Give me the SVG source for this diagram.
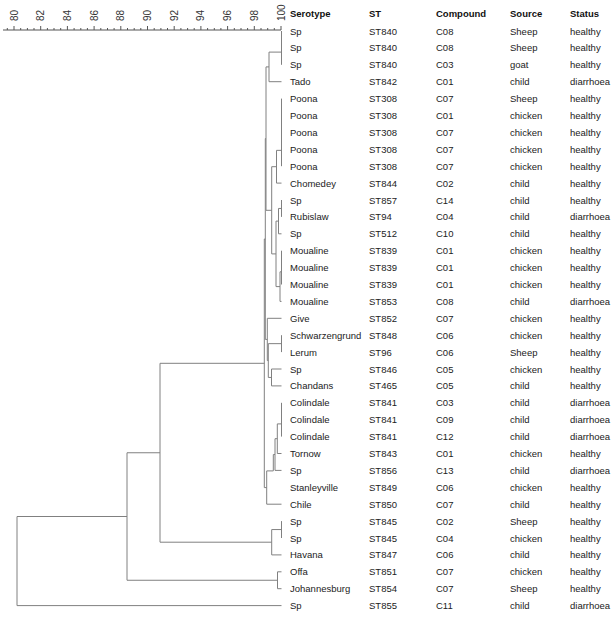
<svg xmlns="http://www.w3.org/2000/svg" width="616" height="619" viewBox="0 0 616 619">
<style>
.t{font-family:"Liberation Sans",Arial,sans-serif;font-size:9.5px;fill:#222}
.h{font-family:"Liberation Sans",Arial,sans-serif;font-size:9.5px;font-weight:bold;fill:#111}
.ax{font-family:"Liberation Sans",Arial,sans-serif;font-size:10px;fill:#333}
.ln{stroke:#808080;stroke-width:1;fill:none}
.tk{stroke:#555;stroke-width:1;fill:none}
</style>
<rect width="616" height="619" fill="#fff"/>
<g id="axis">
<path class="tk" d="M3,30H281"/>
<path class="tk" d="M14,30v-4M40.7,30v-4M67.4,30v-4M94.1,30v-4M120.8,30v-4M147.5,30v-4M174.2,30v-4M200.9,30v-4M227.6,30v-4M254.3,30v-4M281,30v-4"/>
<path class="tk" d="M7.3,30v-2M20.7,30v-2M27.4,30v-2M34,30v-2M47.4,30v-2M54,30v-2M60.7,30v-2M74.1,30v-2M80.8,30v-2M87.4,30v-2M100.8,30v-2M107.5,30v-2M114.1,30v-2M127.5,30v-2M134.2,30v-2M140.8,30v-2M154.2,30v-2M160.9,30v-2M167.5,30v-2M180.9,30v-2M187.6,30v-2M194.2,30v-2M207.6,30v-2M214.3,30v-2M220.9,30v-2M234.3,30v-2M241,30v-2M247.6,30v-2M261,30v-2M267.7,30v-2M274.3,30v-2"/>
<text class="ax" transform="translate(17.5,21) rotate(-90)">80</text>
<text class="ax" transform="translate(44.2,21) rotate(-90)">82</text>
<text class="ax" transform="translate(70.9,21) rotate(-90)">84</text>
<text class="ax" transform="translate(97.6,21) rotate(-90)">86</text>
<text class="ax" transform="translate(124.3,21) rotate(-90)">88</text>
<text class="ax" transform="translate(151,21) rotate(-90)">90</text>
<text class="ax" transform="translate(177.7,21) rotate(-90)">92</text>
<text class="ax" transform="translate(204.4,21) rotate(-90)">94</text>
<text class="ax" transform="translate(231.1,21) rotate(-90)">96</text>
<text class="ax" transform="translate(257.8,21) rotate(-90)">98</text>
<text class="ax" transform="translate(284.5,21) rotate(-90)">100</text>
</g>
<g id="connectors">
<path class="ln" d="M281.5,31V64.8M269,52.1V81.7M269,52.1H281.5M269,81.7H281.5"/>
<path class="ln" d="M281.5,98.6V166.2M276.5,150.35V183.1M276.5,150.35H281.5M276.5,183.1H281.5"/>
<path class="ln" d="M281.5,200V216.9M278.5,208.45V233.8M278.5,208.45H281.5M278.5,233.8H281.5"/>
<path class="ln" d="M281.5,250.7V284.5M280,271.8V301.4M280,271.8H281.5M280,301.4H281.5"/>
<path class="ln" d="M276,221.1V286.6M276,221.1H278.5M276,286.6H280"/>
<path class="ln" d="M271.7,166.7V253.9M271.7,166.7H276.5M271.7,253.9H276"/>
<path class="ln" d="M266,66.9V210.3M266,66.9H269M266,210.3H271.7"/>
<path class="ln" d="M281.5,335.2V352.1M271.5,369V385.9M271.5,369H281.5M271.5,385.9H281.5"/>
<path class="ln" d="M268.3,343.65V377.45M268.3,343.65H281.5M268.3,377.45H271.5"/>
<path class="ln" d="M267.3,318.3V360.55M267.3,318.3H281.5M267.3,360.55H268.3"/>
<path class="ln" d="M281.5,402.8V436.6M277.3,423.9V453.5M277.3,423.9H281.5M277.3,453.5H281.5"/>
<path class="ln" d="M275,438.7V470.4M275,438.7H277.3M275,470.4H281.5"/>
<path class="ln" d="M273.3,454.55V470.9M273.3,454.55H275"/>
<path class="ln" d="M266.7,470.9V504.2M266.7,470.9H273.3M266.7,504.2H281.5"/>
<path class="ln" d="M265.3,138.6V339.4M265.3,138.6H266M265.3,339.4H267.3"/>
<path class="ln" d="M264.3,239V487.6M264.3,239H265.3M264.3,487.6H266.7"/>
<path class="ln" d="M281.5,521.1V538M271.7,529.55V554.9M271.7,529.55H281.5M271.7,554.9H281.5"/>
<path class="ln" d="M160,363.3V542.2M160,363.3H264.3M160,542.2H271.7"/>
<path class="ln" d="M277.5,571.8V588.7M277.5,571.8H281.5M277.5,588.7H281.5"/>
<path class="ln" d="M127,452.75V580.25M127,452.75H160M127,580.25H277.5"/>
<path class="ln" d="M17,516.5V605.6M17,516.5H127M17,605.6H281.5"/>
</g>
<g id="header">
<text class="h" x="290" y="16.5">Serotype</text>
<text class="h" x="369" y="16.5">ST</text>
<text class="h" x="436" y="16.5">Compound</text>
<text class="h" x="510" y="16.5">Source</text>
<text class="h" x="570" y="16.5">Status</text>
</g>
<g id="r1"><text class="t" x="290" y="34.5">Sp</text><text class="t" x="369" y="34.5">ST840</text><text class="t" x="436" y="34.5">C08</text><text class="t" x="510" y="34.5">Sheep</text><text class="t" x="570" y="34.5">healthy</text></g>
<g id="r2"><text class="t" x="290" y="51.4">Sp</text><text class="t" x="369" y="51.4">ST840</text><text class="t" x="436" y="51.4">C08</text><text class="t" x="510" y="51.4">Sheep</text><text class="t" x="570" y="51.4">healthy</text></g>
<g id="r3"><text class="t" x="290" y="68.3">Sp</text><text class="t" x="369" y="68.3">ST840</text><text class="t" x="436" y="68.3">C03</text><text class="t" x="510" y="68.3">goat</text><text class="t" x="570" y="68.3">healthy</text></g>
<g id="r4"><text class="t" x="290" y="85.2">Tado</text><text class="t" x="369" y="85.2">ST842</text><text class="t" x="436" y="85.2">C01</text><text class="t" x="510" y="85.2">child</text><text class="t" x="570" y="85.2">diarrhoea</text></g>
<g id="r5"><text class="t" x="290" y="102.1">Poona</text><text class="t" x="369" y="102.1">ST308</text><text class="t" x="436" y="102.1">C07</text><text class="t" x="510" y="102.1">Sheep</text><text class="t" x="570" y="102.1">healthy</text></g>
<g id="r6"><text class="t" x="290" y="119">Poona</text><text class="t" x="369" y="119">ST308</text><text class="t" x="436" y="119">C01</text><text class="t" x="510" y="119">chicken</text><text class="t" x="570" y="119">healthy</text></g>
<g id="r7"><text class="t" x="290" y="135.9">Poona</text><text class="t" x="369" y="135.9">ST308</text><text class="t" x="436" y="135.9">C07</text><text class="t" x="510" y="135.9">chicken</text><text class="t" x="570" y="135.9">healthy</text></g>
<g id="r8"><text class="t" x="290" y="152.8">Poona</text><text class="t" x="369" y="152.8">ST308</text><text class="t" x="436" y="152.8">C07</text><text class="t" x="510" y="152.8">chicken</text><text class="t" x="570" y="152.8">healthy</text></g>
<g id="r9"><text class="t" x="290" y="169.7">Poona</text><text class="t" x="369" y="169.7">ST308</text><text class="t" x="436" y="169.7">C07</text><text class="t" x="510" y="169.7">chicken</text><text class="t" x="570" y="169.7">healthy</text></g>
<g id="r10"><text class="t" x="290" y="186.6">Chomedey</text><text class="t" x="369" y="186.6">ST844</text><text class="t" x="436" y="186.6">C02</text><text class="t" x="510" y="186.6">child</text><text class="t" x="570" y="186.6">healthy</text></g>
<g id="r11"><text class="t" x="290" y="203.5">Sp</text><text class="t" x="369" y="203.5">ST857</text><text class="t" x="436" y="203.5">C14</text><text class="t" x="510" y="203.5">child</text><text class="t" x="570" y="203.5">healthy</text></g>
<g id="r12"><text class="t" x="290" y="220.4">Rubislaw</text><text class="t" x="369" y="220.4">ST94</text><text class="t" x="436" y="220.4">C04</text><text class="t" x="510" y="220.4">child</text><text class="t" x="570" y="220.4">diarrhoea</text></g>
<g id="r13"><text class="t" x="290" y="237.3">Sp</text><text class="t" x="369" y="237.3">ST512</text><text class="t" x="436" y="237.3">C10</text><text class="t" x="510" y="237.3">child</text><text class="t" x="570" y="237.3">healthy</text></g>
<g id="r14"><text class="t" x="290" y="254.2">Moualine</text><text class="t" x="369" y="254.2">ST839</text><text class="t" x="436" y="254.2">C01</text><text class="t" x="510" y="254.2">chicken</text><text class="t" x="570" y="254.2">healthy</text></g>
<g id="r15"><text class="t" x="290" y="271.1">Moualine</text><text class="t" x="369" y="271.1">ST839</text><text class="t" x="436" y="271.1">C01</text><text class="t" x="510" y="271.1">chicken</text><text class="t" x="570" y="271.1">healthy</text></g>
<g id="r16"><text class="t" x="290" y="288">Moualine</text><text class="t" x="369" y="288">ST839</text><text class="t" x="436" y="288">C01</text><text class="t" x="510" y="288">chicken</text><text class="t" x="570" y="288">healthy</text></g>
<g id="r17"><text class="t" x="290" y="304.9">Moualine</text><text class="t" x="369" y="304.9">ST853</text><text class="t" x="436" y="304.9">C08</text><text class="t" x="510" y="304.9">child</text><text class="t" x="570" y="304.9">diarrhoea</text></g>
<g id="r18"><text class="t" x="290" y="321.8">Give</text><text class="t" x="369" y="321.8">ST852</text><text class="t" x="436" y="321.8">C07</text><text class="t" x="510" y="321.8">chicken</text><text class="t" x="570" y="321.8">healthy</text></g>
<g id="r19"><text class="t" x="290" y="338.7">Schwarzengrund</text><text class="t" x="369" y="338.7">ST848</text><text class="t" x="436" y="338.7">C06</text><text class="t" x="510" y="338.7">chicken</text><text class="t" x="570" y="338.7">healthy</text></g>
<g id="r20"><text class="t" x="290" y="355.6">Lerum</text><text class="t" x="369" y="355.6">ST96</text><text class="t" x="436" y="355.6">C06</text><text class="t" x="510" y="355.6">Sheep</text><text class="t" x="570" y="355.6">healthy</text></g>
<g id="r21"><text class="t" x="290" y="372.5">Sp</text><text class="t" x="369" y="372.5">ST846</text><text class="t" x="436" y="372.5">C05</text><text class="t" x="510" y="372.5">chicken</text><text class="t" x="570" y="372.5">healthy</text></g>
<g id="r22"><text class="t" x="290" y="389.4">Chandans</text><text class="t" x="369" y="389.4">ST465</text><text class="t" x="436" y="389.4">C05</text><text class="t" x="510" y="389.4">child</text><text class="t" x="570" y="389.4">healthy</text></g>
<g id="r23"><text class="t" x="290" y="406.3">Colindale</text><text class="t" x="369" y="406.3">ST841</text><text class="t" x="436" y="406.3">C03</text><text class="t" x="510" y="406.3">child</text><text class="t" x="570" y="406.3">diarrhoea</text></g>
<g id="r24"><text class="t" x="290" y="423.2">Colindale</text><text class="t" x="369" y="423.2">ST841</text><text class="t" x="436" y="423.2">C09</text><text class="t" x="510" y="423.2">child</text><text class="t" x="570" y="423.2">diarrhoea</text></g>
<g id="r25"><text class="t" x="290" y="440.1">Colindale</text><text class="t" x="369" y="440.1">ST841</text><text class="t" x="436" y="440.1">C12</text><text class="t" x="510" y="440.1">child</text><text class="t" x="570" y="440.1">diarrhoea</text></g>
<g id="r26"><text class="t" x="290" y="457">Tornow</text><text class="t" x="369" y="457">ST843</text><text class="t" x="436" y="457">C01</text><text class="t" x="510" y="457">chicken</text><text class="t" x="570" y="457">healthy</text></g>
<g id="r27"><text class="t" x="290" y="473.9">Sp</text><text class="t" x="369" y="473.9">ST856</text><text class="t" x="436" y="473.9">C13</text><text class="t" x="510" y="473.9">child</text><text class="t" x="570" y="473.9">diarrhoea</text></g>
<g id="r28"><text class="t" x="290" y="490.8">Stanleyville</text><text class="t" x="369" y="490.8">ST849</text><text class="t" x="436" y="490.8">C06</text><text class="t" x="510" y="490.8">chicken</text><text class="t" x="570" y="490.8">healthy</text></g>
<g id="r29"><text class="t" x="290" y="507.7">Chile</text><text class="t" x="369" y="507.7">ST850</text><text class="t" x="436" y="507.7">C07</text><text class="t" x="510" y="507.7">child</text><text class="t" x="570" y="507.7">healthy</text></g>
<g id="r30"><text class="t" x="290" y="524.6">Sp</text><text class="t" x="369" y="524.6">ST845</text><text class="t" x="436" y="524.6">C02</text><text class="t" x="510" y="524.6">Sheep</text><text class="t" x="570" y="524.6">healthy</text></g>
<g id="r31"><text class="t" x="290" y="541.5">Sp</text><text class="t" x="369" y="541.5">ST845</text><text class="t" x="436" y="541.5">C04</text><text class="t" x="510" y="541.5">chicken</text><text class="t" x="570" y="541.5">healthy</text></g>
<g id="r32"><text class="t" x="290" y="558.4">Havana</text><text class="t" x="369" y="558.4">ST847</text><text class="t" x="436" y="558.4">C06</text><text class="t" x="510" y="558.4">child</text><text class="t" x="570" y="558.4">healthy</text></g>
<g id="r33"><text class="t" x="290" y="575.3">Offa</text><text class="t" x="369" y="575.3">ST851</text><text class="t" x="436" y="575.3">C07</text><text class="t" x="510" y="575.3">chicken</text><text class="t" x="570" y="575.3">healthy</text></g>
<g id="r34"><text class="t" x="290" y="592.2">Johannesburg</text><text class="t" x="369" y="592.2">ST854</text><text class="t" x="436" y="592.2">C07</text><text class="t" x="510" y="592.2">Sheep</text><text class="t" x="570" y="592.2">healthy</text></g>
<g id="r35"><text class="t" x="290" y="609.1">Sp</text><text class="t" x="369" y="609.1">ST855</text><text class="t" x="436" y="609.1">C11</text><text class="t" x="510" y="609.1">child</text><text class="t" x="570" y="609.1">diarrhoea</text></g>
</svg>
